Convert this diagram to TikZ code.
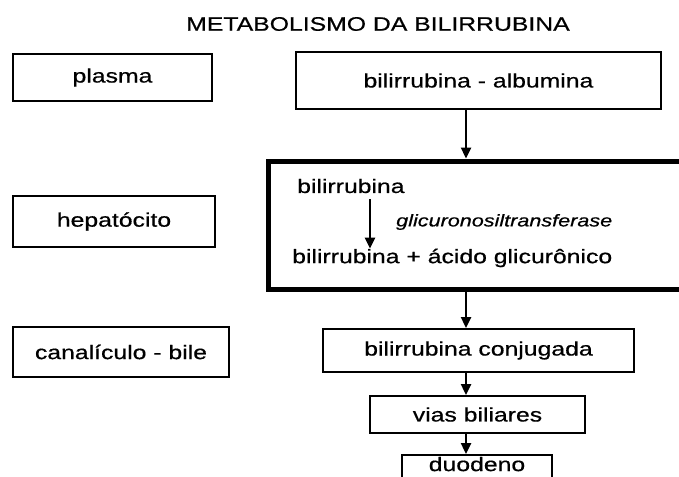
\documentclass[tikz,border=0pt]{standalone}
\usepackage{fontspec}
\setmainfont{Liberation Sans}[FakeStretch=1.27, FakeBold=0.6]
\usetikzlibrary{arrows.meta}
\begin{document}
\begin{tikzpicture}[x=1pt, y=-1pt,
    box/.style={draw, line width=2pt, inner sep=0pt, font=\fontsize{19.5}{23}\selectfont},
    thickbox/.style={draw, line width=5pt, inner sep=0pt},
    txt/.style={inner sep=0pt, font=\fontsize{19.5}{23}\selectfont},
    enzyme/.style={inner sep=0pt, font=\fontsize{17}{20}\selectfont\itshape},
    flow/.style={-{Triangle[length=11pt, width=10pt]}, line width=2.4pt}]
    \useasboundingbox (0,0) rectangle (679,476);

    % Define nodes
    \node[txt] (title) at (378,24) {METABOLISMO DA BILIRRUBINA};

    \node[box, minimum width=199pt, minimum height=47pt] (plasma) at (112.5,77.5) {plasma};
    \node[box, minimum width=202pt, minimum height=51pt] (hepato) at (114,221.5) {hepatócito};
    \node[box, minimum width=216pt, minimum height=50pt] (canal) at (121,352) {canalículo - bile};

    \node[box, minimum width=365pt, minimum height=57pt] (albumina) at (478.5,80.5) {bilirrubina - albumina};
    \node[thickbox, minimum width=442pt, minimum height=128pt] (cell) at (489,225) {};
    \node[txt, anchor=west] (bili) at (297,186) {bilirrubina};
    \node[enzyme, anchor=west] (enz) at (396,222) {glicuronosiltransferase};
    \node[txt, anchor=west] (acido) at (292,258) {bilirrubina + ácido glicurônico};
    \node[box, minimum width=311pt, minimum height=43pt] (conj) at (478.5,350.5) {bilirrubina conjugada};
    \node[box, minimum width=215pt, minimum height=37pt] (vias) at (477.5,414.5) {vias biliares};
    \node[box, minimum width=150pt, minimum height=30pt, text depth=12pt] (duodeno) at (477,470) {duodeno};

    \coordinate (spine) at (466,0);
    \coordinate (react) at (370,0);

    % Draw edges
    \draw[flow] (albumina.south -| spine) -- (cell.north -| spine);
    \draw[flow, shorten <=6pt] (bili.south -| react) -- (acido.north -| react);
    \draw[flow] (cell.south -| spine) -- (conj.north -| spine);
    \draw[flow] (conj.south -| spine) -- (vias.north -| spine);
    \draw[flow] (vias.south -| spine) -- (duodeno.north -| spine);

\end{tikzpicture}
\end{document}
